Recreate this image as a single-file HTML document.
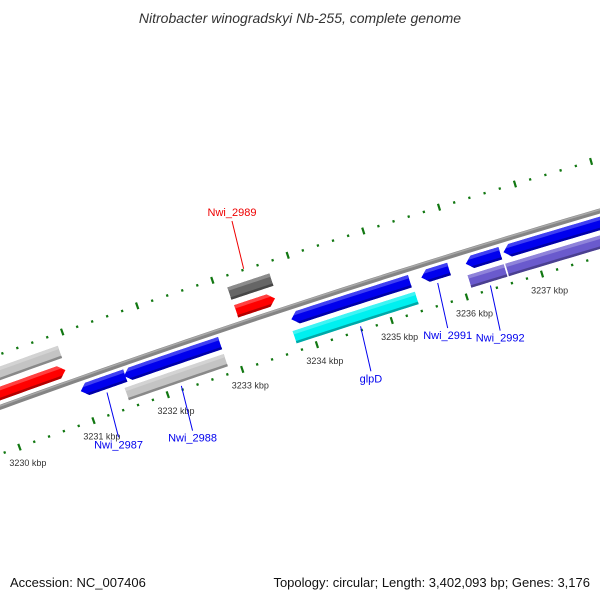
<!DOCTYPE html>
<html><head><meta charset="utf-8"><style>
html,body{margin:0;padding:0;background:#fff;}
svg{display:block;font-family:"Liberation Sans","DejaVu Sans",sans-serif;}
</style></head><body>
<svg id="map" width="600" height="600" viewBox="0 0 600 600" xmlns="http://www.w3.org/2000/svg">
<rect width="600" height="600" fill="#fff"/>
<text x="300" y="23" text-anchor="middle" font-size="14" font-style="italic" fill="#333">Nitrobacter winogradskyi Nb-255, complete genome</text>
<g id="ticks"></g>
<g id="backbone"></g>
<g id="features"></g>
<g id="labels"></g>
<text x="10" y="587" font-size="13" fill="#111">Accession: NC_007406</text>
<text x="590" y="587" font-size="13" fill="#111" text-anchor="end">Topology: circular; Length: 3,402,093 bp; Genes: 3,176</text>
</svg>
<script>
// ---- data ----
const featStart = [3229.0, 3229.0, 3233.15, 3233.16, 3230.97, 3231.55, 3231.51, 3233.79, 3233.76, 3235.52, 3236.11, 3236.09, 3236.61, 3236.59];
const featEnd   = [3230.89, 3230.88, 3233.71, 3233.68, 3231.57, 3232.84, 3232.84, 3235.37, 3235.39, 3235.89, 3236.57, 3236.57, 3239.0, 3239.0];
const featTrack = [32, 13, 32, 13, -12, -12, -30, -12, -30, -12, -12, -30, -12, -30];
const featColor = ['#c4c4c4','#ff0000','#666666','#ff0000','#0000ee','#0000ee','#c4c4c4','#0000ee','#00f0f0','#0000ee','#0000ee','#6a5acd','#0000ee','#6a5acd'];
const featDir   = [0, 1, 0, 1, -1, -1, 0, -1, 0, -1, -1, 0, -1, 0];
const majorTicks = [3229, 3230, 3231, 3232, 3233, 3234, 3235, 3236, 3237, 3238];
const tickLabels = ['3229 kbp','3230 kbp','3231 kbp','3232 kbp','3233 kbp','3234 kbp','3235 kbp','3236 kbp','3237 kbp','3238 kbp'];
const geneNames = ['Nwi_2989','Nwi_2987','Nwi_2988','glpD','Nwi_2991','Nwi_2992'];
const genePos   = [3233.42, 3231.28, 3232.2, 3234.6, 3235.7, 3236.33];
const geneTrack = [32, -12, -30, -30, -12, -30];
const geneColor = ['#ee0000','#0000ee','#0000ee','#0000ee','#0000ee','#0000ee'];

// ---- geometry ----
const NS = 'http://www.w3.org/2000/svg';
const R = 10000, PXK = 79, A0 = -108.1*Math.PI/180;
const CX = 300 + R*0.311, CY = 298 + R*0.951;
function pt(k, v){ const a = A0 + (k-3234)*PXK/R; const r = R+v; return [CX + r*Math.cos(a), CY + r*Math.sin(a)]; }
function arcPts(k1,k2,v,n){ const p=[]; for(let i=0;i<=n;i++){ p.push(pt(k1+(k2-k1)*i/n, v)); } return p; }
function ps(p){ return p.map(q=>q[0].toFixed(2)+','+q[1].toFixed(2)).join(' '); }
function mk(tag, attrs, parent){ const e=document.createElementNS(NS,tag); for(const k in attrs) e.setAttribute(k, attrs[k]); parent.appendChild(e); return e; }
function band(k1,k2,v1,v2){ return arcPts(k1,k2,v1,20).concat(arcPts(k1,k2,v2,20).reverse()); }
function shade(hex, f){ const n=parseInt(hex.slice(1),16); let r=n>>16,g=(n>>8)&255,b=n&255;
  if(f>0){ r=r+(255-r)*f; g=g+(255-g)*f; b=b+(255-b)*f; } else { r*=1+f; g*=1+f; b*=1+f; }
  return 'rgb('+Math.round(r)+','+Math.round(g)+','+Math.round(b)+')'; }

const K0 = 3229.3, K1 = 3238.6;
// ticks
const tg = document.getElementById('ticks');
[50, -44].forEach(function(v, ri){
  for(let t=Math.ceil(K0*5); t<=K1*5; t++){
    const k = t/5; const major = (t%5===0);
    const L = major ? 3.5 : 1.2;
    const a = pt(k, v-L), b = pt(k, v+L);
    const ln = mk('line',{x1:a[0],y1:a[1],x2:b[0],y2:b[1],stroke:'#117711','stroke-width':major?2.2:2.2}, tg);
    
    
  }
});
majorTicks.forEach(function(k, i){
  const p = pt(k, -60);
  const tx = mk('text',{x:p[0]+3,y:p[1]+4,'font-size':9,fill:'#333','text-anchor':'middle'}, tg);
  tx.textContent = tickLabels[i];
  
  
});
// backbone
const bg = document.getElementById('backbone');
const b1 = mk('polyline',{points:ps(arcPts(K0-1,K1+1,0,60)),fill:'none',stroke:'#858585','stroke-width':5}, bg);


const b2 = mk('polyline',{points:ps(arcPts(K0-1,K1+1,1.3,60)),fill:'none',stroke:'#a8a8a8','stroke-width':1.5}, bg);


// features
const fg = document.getElementById('features');
const W = 13, H = 7/PXK;
featStart.forEach(function(s, i){
  const e = featEnd[i], v = featTrack[i], d = featDir[i], c = featColor[i];
  const o = v + W/2, n = v - W/2;
  let poly;
  if(d === 1){ poly = arcPts(s,e-H,o,20).concat([pt(e,v)]).concat(arcPts(s,e-H,n,20).reverse()); }
  else if(d === -1){ poly = [pt(s,v)].concat(arcPts(s+H,e,o,20)).concat(arcPts(s+H,e,n,20).reverse()); }
  else { poly = band(s,e,o,n); }
  const cp = mk('clipPath',{id:'cp'+i}, fg);
  mk('polygon',{points:ps(poly)}, cp);
  const g = mk('g',{'clip-path':'url(#cp'+i+')'}, fg);
  
  
  mk('polygon',{points:ps(poly),fill:c}, g);
  mk('polygon',{points:ps(band(s-0.2,e+0.2,o+1,o-3.5)),fill:shade(c,0.25)}, g);
  mk('polygon',{points:ps(band(s-0.2,e+0.2,n+2.5,n-1)),fill:shade(c,-0.3)}, g);
});
// gene labels
const lg = document.getElementById('labels');
geneNames.forEach(function(nm, i){
  const k = genePos[i], v = geneTrack[i];
  const out = v > 0;
  const a = out ? pt(k, v+19) : pt(k, v-10);
  const b = out ? pt(k+0.05, v+68) : pt(k-0.05, v-56);
  const ln = mk('line',{x1:a[0],y1:a[1],x2:b[0],y2:b[1],stroke:geneColor[i],'stroke-width':1}, lg);
  
  
  const tx = mk('text',{x:b[0],y:out?b[1]-5:b[1]+11,'font-size':11,fill:geneColor[i],'text-anchor':'middle'}, lg);
  tx.textContent = nm;
  
  
});
</script>
</body></html>
